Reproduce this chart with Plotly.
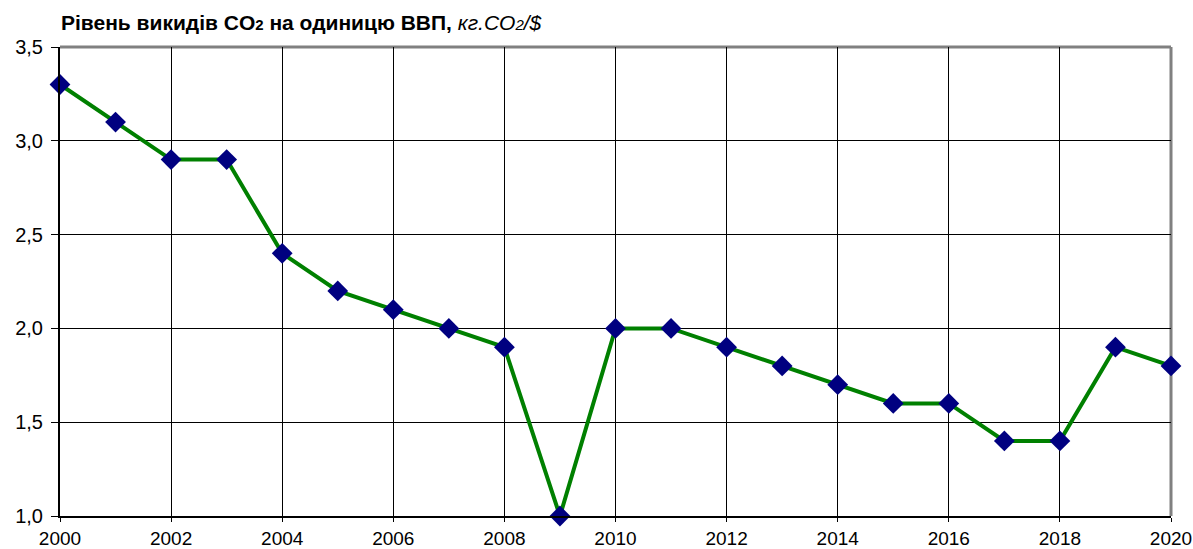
import plotly.graph_objects as go

years = list(range(2000, 2021))
values = [3.3, 3.1, 2.9, 2.9, 2.4, 2.2, 2.1, 2.0, 1.9, 1.0, 2.0, 2.0, 1.9, 1.8, 1.7, 1.6, 1.6, 1.4, 1.4, 1.9, 1.8]
y_ticks = [1.0, 1.5, 2.0, 2.5, 3.0, 3.5]
x_ticks = list(range(2000, 2021, 2))

font = "Liberation Sans, Arial, sans-serif"

fig = go.Figure()
fig.add_trace(go.Scatter(
    x=years, y=values, mode="lines+markers",
    line=dict(color="#008000", width=4),
    marker=dict(symbol="diamond", size=16, color="#000080"),
    cliponaxis=False, showlegend=False,
))

fig.update_layout(
    width=1193, height=549,
    margin=dict(l=60, r=22, t=47, b=33, autoexpand=False),
    paper_bgcolor="white", plot_bgcolor="white",
    separators=", ",
    font=dict(family=font, size=20, color="black"),
    title=dict(
        text="<b>Рівень викидів CO<span style='font-size:15px'>2</span> на одиницю ВВП,</b> <i>кг.CO<span style='font-size:15px'>2</span>/$</i>",
        x=61 / 1193, xanchor="left", y=1 - 23 / 549, yanchor="middle",
        font=dict(family=font, size=21, color="black"),
    ),
    xaxis=dict(
        range=[2000, 2020], tickvals=x_ticks, tickformat="d",
        showgrid=True, gridcolor="#000000", gridwidth=1,
        showline=True, linecolor="black", linewidth=2,
        ticks="outside", ticklen=4, tickcolor="black",
        ticklabelstandoff=0, ticklabeloverflow="allow",
        zeroline=False, tickfont=dict(size=19), automargin=False,
    ),
    yaxis=dict(
        range=[1.0, 3.5], tickvals=y_ticks, tickformat=".1f",
        showgrid=True, gridcolor="#000000", gridwidth=1,
        showline=True, linecolor="black", linewidth=2,
        ticks="outside", ticklen=7, tickcolor="black",
        ticklabelstandoff=4,
        zeroline=False, tickfont=dict(size=20), automargin=False,
    ),
    shapes=[
        dict(type="line", xref="paper", yref="paper", x0=0, x1=1, y0=1, y1=1,
             line=dict(color="#808080", width=3), layer="below"),
        dict(type="line", xref="paper", yref="paper", x0=1, x1=1, y0=0, y1=1,
             line=dict(color="#808080", width=3), layer="below"),
    ],
)

fig.write_html("out.html", post_script="document.body.style.margin='0';",
               config={"displayModeBar": False})
